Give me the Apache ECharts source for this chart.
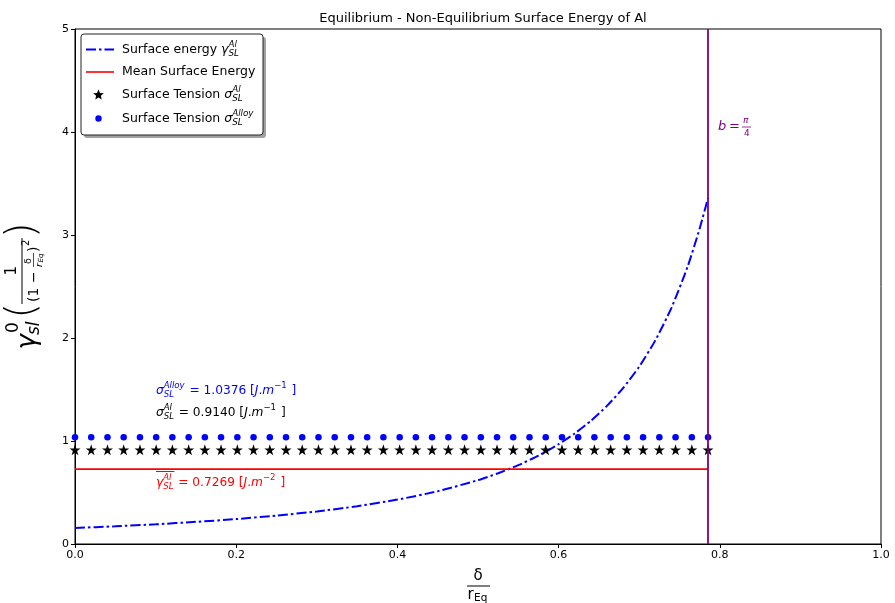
<!DOCTYPE html>
<html><head><meta charset="utf-8">
<script src="https://cdn.jsdelivr.net/npm/echarts@6/dist/echarts.min.js"></script>
<style>html,body{margin:0;padding:0;background:#fff}#c{width:895px;height:603px}</style>
</head><body><div id="c"></div>
<script>
// ---- data ----
const bValue = 0.7854;              // b = pi/4
const sigmaAl = 0.9140;             // surface tension Al
const sigmaAlloy = 1.0376;          // surface tension Alloy
const meanAl = 0.7269;              // mean surface energy
const markerX = [0, 0.0201, 0.0403, 0.0604, 0.0806, 0.1007, 0.1208, 0.1410, 0.1611, 0.1812,
  0.2014, 0.2215, 0.2417, 0.2618, 0.2819, 0.3021, 0.3222, 0.3424, 0.3625, 0.3826,
  0.4028, 0.4229, 0.4430, 0.4632, 0.4833, 0.5035, 0.5236, 0.5437, 0.5639, 0.5840,
  0.6042, 0.6243, 0.6444, 0.6646, 0.6847, 0.7048, 0.7250, 0.7451, 0.7653, 0.7854];
const curveX = [0, 0.05, 0.1, 0.15, 0.2, 0.25, 0.3, 0.35, 0.4, 0.45, 0.5, 0.525, 0.55, 0.575, 0.6,
  0.62, 0.64, 0.66, 0.68, 0.70, 0.72, 0.74, 0.76, 0.775, 0.7854];
const curveY = [0.155, 0.172, 0.191, 0.215, 0.242, 0.276, 0.316, 0.367, 0.431, 0.512, 0.62, 0.687, 0.765, 0.858, 0.969,
  1.073, 1.196, 1.341, 1.514, 1.722, 1.977, 2.293, 2.691, 3.062, 3.36];
const xTicks = [0, 0.2, 0.4, 0.6, 0.8, 1.0];
const yTicks = [0, 1, 2, 3, 4, 5];

// ---- helpers for math-like text ----
const FAM = '"DejaVu Sans"';
const mctx = document.createElement('canvas').getContext('2d');
function fnt(size, it){ return (it ? 'italic ' : '') + size + 'px ' + FAM; }
function tw(t, f){ mctx.font = f; return mctx.measureText(t).width; }
function txt(t, x, y, size, it, color, fontOverride, align){
  return {type:'text', x:x, y:y, silent:true, z:100,
    style:{text:t, fill:color, font:fontOverride || fnt(size,it), align:align||'left', verticalAlign:'middle'}};
}
function mathLine(items, x0, y0, color, size){
  let x = x0; const els = []; const marks = {};
  for (const it of items){
    if (it.mark){ marks[it.mark] = x; continue; }
    if (it.sup !== undefined || it.sub !== undefined){
      const ss = size*0.7; let w = 0; const ital = it.it !== false;
      if (it.sup !== undefined){ els.push(txt(it.sup, x, y0 - size*0.42, ss, ital, color)); w = Math.max(w, tw(it.sup, fnt(ss, ital))); }
      if (it.sub !== undefined){ els.push(txt(it.sub, x, y0 + size*0.33, ss, ital, color)); w = Math.max(w, tw(it.sub, fnt(ss, ital))); }
      x += w + 1;
    } else {
      const sz = size*(it.s||1);
      els.push(txt(it.t, x, y0 + (it.dy||0), sz, !!it.it, color));
      x += tw(it.t, fnt(sz, !!it.it));
    }
  }
  return {els, x, marks};
}
function starPoints(cx, cy, R, r){
  const p = [];
  for (let k = 0; k < 10; k++){
    const a = -Math.PI/2 + k*Math.PI/5; const rr = k % 2 ? r : R;
    p.push([cx + rr*Math.cos(a), cy + rr*Math.sin(a)]);
  }
  return p;
}

const graphics = [];

// Legend box
graphics.push({type:'rect', silent:true, z:90, shape:{x:84, y:37, width:182, height:101, r:3}, style:{fill:'#555', opacity:0.55}});
graphics.push({type:'rect', silent:true, z:91, shape:{x:81, y:34, width:182, height:101, r:3}, style:{fill:'#fff', stroke:'#222', lineWidth:1}});
const LS = 12.5;
const rowY = [49.5, 72, 94.5, 118.5];
graphics.push({type:'line', silent:true, z:95, shape:{x1:86, y1:rowY[0], x2:114, y2:rowY[0]}, style:{stroke:'#0000ff', lineWidth:2, lineDash:[10,3,2.5,3]}});
graphics.push({type:'line', silent:true, z:95, shape:{x1:86, y1:rowY[1], x2:114, y2:rowY[1]}, style:{stroke:'#ff0000', lineWidth:1.6}});
graphics.push({type:'polygon', silent:true, z:95, shape:{points:starPoints(98.5, rowY[2]+0.5, 5.5, 2.5)}, style:{fill:'#000'}});
graphics.push({type:'circle', silent:true, z:95, shape:{cx:98.5, cy:rowY[3], r:3.2}, style:{fill:'#0000ff'}});
graphics.push(...mathLine([{t:'Surface energy '},{t:'γ', it:true},{sup:'Al', sub:'SL'}], 122, rowY[0], '#000', LS).els);
graphics.push(...mathLine([{t:'Mean Surface Energy'}], 122, rowY[1], '#000', LS).els);
graphics.push(...mathLine([{t:'Surface Tension '},{t:'σ', it:true},{sup:'Al', sub:'SL'}], 122, rowY[2], '#000', LS).els);
graphics.push(...mathLine([{t:'Surface Tension '},{t:'σ', it:true},{sup:'Alloy', sub:'SL'}], 122, rowY[3], '#000', LS).els);

// Annotations
const AS = 12.2;
graphics.push(...mathLine([{t:'σ', it:true},{sup:'Alloy', sub:'SL'},{t:' = 1.0376 ['},{t:'J', it:true},{t:'.'},{t:'m', it:true},{sup:'−1', it:false},{t:' ]'}], 156, 391, '#0000ff', AS).els);
graphics.push(...mathLine([{t:'σ', it:true},{sup:'Al', sub:'SL'},{t:' = 0.9140 ['},{t:'J', it:true},{t:'.'},{t:'m', it:true},{sup:'−1', it:false},{t:' ]'}], 156, 413, '#000', AS).els);
const red = mathLine([{t:'γ', it:true},{sup:'Al', sub:'SL'},{mark:'e'},{t:' = 0.7269 ['},{t:'J', it:true},{t:'.'},{t:'m', it:true},{sup:'−2', it:false},{t:' ]'}], 156, 483, '#ff0000', AS);
graphics.push(...red.els);
graphics.push({type:'line', silent:true, z:100, shape:{x1:156, y1:471.5, x2:red.marks.e, y2:471.5}, style:{stroke:'#ff0000', lineWidth:1}});
// b = pi/4
graphics.push(txt('b', 718, 127, 13, true, '#800080'));
graphics.push(txt('=', 729, 127, 13, false, '#800080'));
graphics.push(txt('π', 743, 120.5, 9, true, '#800080'));
graphics.push({type:'line', silent:true, z:100, shape:{x1:742, y1:127, x2:751, y2:127}, style:{stroke:'#800080', lineWidth:0.8}});
graphics.push(txt('4', 744, 133.5, 9, false, '#800080'));

// x-axis name: delta / r_Eq
graphics.push(txt('δ', 478, 576, 15, false, '#000', null, 'center'));
graphics.push({type:'line', silent:true, z:100, shape:{x1:467, y1:586, x2:490, y2:586}, style:{stroke:'#000', lineWidth:1}});
graphics.push(txt('r', 467.5, 595, 15, false, '#000'));
graphics.push(txt('Eq', 474, 598, 10.5, false, '#000'));

// y-axis label, built horizontally then rotated
(function(){
  const ch = [];
  let x = 0;
  const c = '#000';
  ch.push(txt('γ', x, 5, 26, true, c)); x += tw('γ', fnt(26,true)) + 1;
  ch.push(txt('0', x, -9, 17, false, c));
  ch.push(txt('sl', x - 2, 12, 17, true, c));
  x += Math.max(tw('0', fnt(17,false)), tw('sl', fnt(17,true))) + 1;
  ch.push(txt('(', x, 1, 40, false, c, '300 40px ' + FAM));
  x += tw('(', fnt(40,false)) - 1;
  const fx0 = x;
  const ds = 14; let dx = x + 2;
  ch.push(txt('(1 − ', dx, 11, ds, false, c)); dx += tw('(1 − ', fnt(ds,false));
  const sfx = dx;
  ch.push(txt('δ', dx + 3, 5.5, 9.5, false, c));
  ch.push(txt('r', dx, 16.5, 9.5, true, c));
  ch.push(txt('Eq', dx + 4.5, 18.5, 7, true, c));
  dx += 15;
  ch.push({type:'line', silent:true, z:100, shape:{x1:sfx, y1:10.5, x2:dx - 1, y2:10.5}, style:{stroke:c, lineWidth:0.7}});
  ch.push(txt(')', dx, 11, ds, false, c)); dx += tw(')', fnt(ds,false));
  ch.push(txt('2', dx + 0.5, 3, 10, false, c)); dx += tw('2', fnt(10,false)) + 2;
  ch.push({type:'line', silent:true, z:100, shape:{x1:fx0, y1:-1, x2:dx, y2:-1}, style:{stroke:c, lineWidth:1}});
  ch.push(txt('1', (fx0 + dx)/2 - 4.5, -11, 15, false, c));
  x = dx;
  ch.push(txt(')', x, 1, 40, false, c, '300 40px ' + FAM));
  x += tw(')', fnt(40,false));
  const L = x;
  graphics.push({type:'group', x:23, y:286 + L/2, rotation:Math.PI/2, children:ch});
})();

const chart = echarts.init(document.getElementById('c'), null, {renderer:'canvas'});
const starPath = 'path://M50,0 L62,36 L100,36 L69,58 L81,95 L50,72 L19,95 L31,58 L0,36 L38,36 Z';
chart.setOption({
  animation:false,
  backgroundColor:'#fff',
  textStyle:{fontFamily:'DejaVu Sans'},
  title:{text:'Equilibrium - Non-Equilibrium Surface Energy of Al', left:478, top:7, textAlign:'center',
    textStyle:{fontSize:13, fontWeight:'normal', color:'#000', fontFamily:'DejaVu Sans'}},
  grid:{left:75, right:14, top:29, bottom:59, show:true, borderColor:'#000', borderWidth:1, backgroundColor:'transparent'},
  xAxis:{type:'value', min:xTicks[0], max:xTicks[xTicks.length-1], interval:0.2,
    axisLine:{lineStyle:{color:'#000', width:1}}, axisTick:{length:4, lineStyle:{color:'#000'}},
    axisLabel:{color:'#000', fontSize:11, margin:6, formatter:v=>v.toFixed(1)}, splitLine:{show:false}},
  yAxis:{type:'value', min:yTicks[0], max:yTicks[yTicks.length-1], interval:1,
    axisLine:{show:true, lineStyle:{color:'#000', width:1}}, axisTick:{show:true, length:4, lineStyle:{color:'#000'}},
    axisLabel:{color:'#000', fontSize:11, margin:6}, splitLine:{show:false}},
  series:[
    {name:'Surface energy', type:'line', data:curveX.map((x,i)=>[x, curveY[i]]), showSymbol:false, smooth:0.2,
      lineStyle:{color:'#0000ff', width:2, type:[10,3,2.5,3]}, z:3,
      markLine:{silent:true, symbol:'none', precision:6, label:{show:false}, lineStyle:{color:'#800080', width:1.8, type:'solid'}, data:[{xAxis:bValue}]}},
    {name:'Mean Surface Energy', type:'line', data:[[markerX[0], meanAl],[markerX[markerX.length-1], meanAl]], showSymbol:false,
      lineStyle:{color:'#ff0000', width:1.6}, z:3},
    {name:'Surface Tension Al', type:'scatter', data:markerX.map(x=>[x, sigmaAl]), symbol:starPath, symbolSize:11,
      itemStyle:{color:'#000', opacity:1}, z:4},
    {name:'Surface Tension Alloy', type:'scatter', data:markerX.map(x=>[x, sigmaAlloy]), symbol:'circle', symbolSize:6.5,
      itemStyle:{color:'#0000ff', opacity:1}, z:4}
  ],
  graphic:graphics
});
</script></body></html>
